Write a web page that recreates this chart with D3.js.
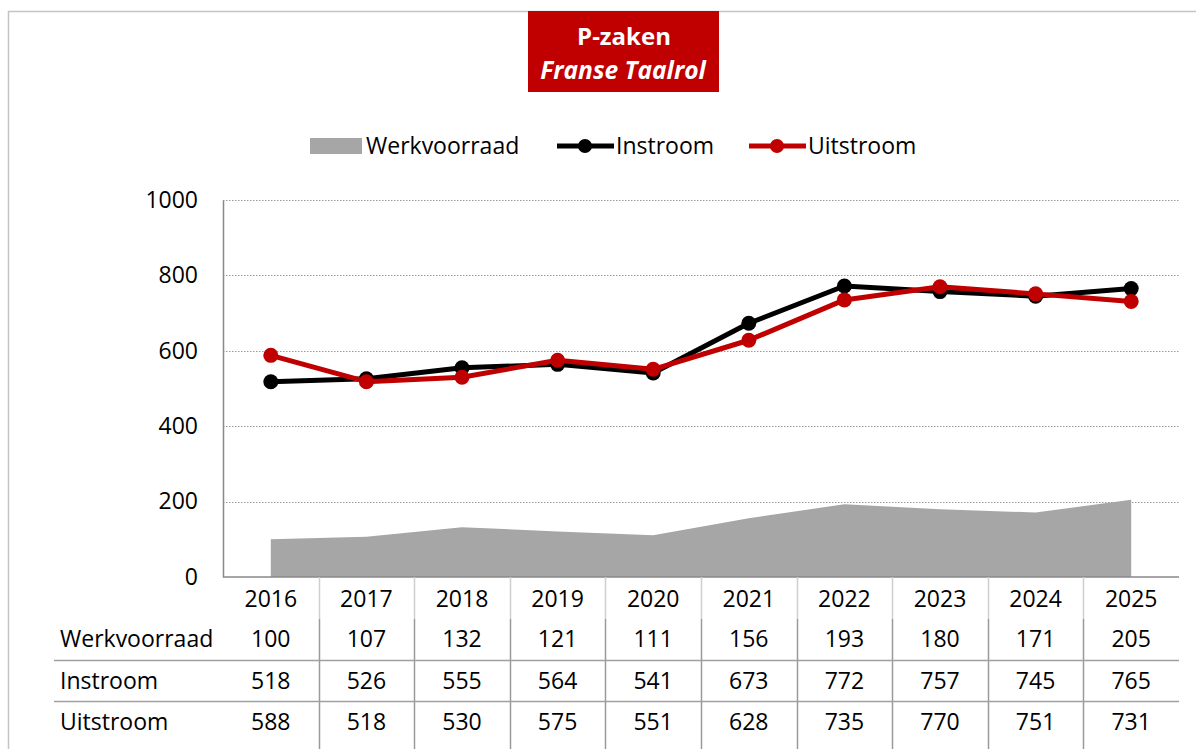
<!DOCTYPE html>
<html>
<head>
<meta charset="utf-8">
<script src="https://cdn.jsdelivr.net/npm/d3@7"></script>
<style>
  body { margin: 0; background: #fff; }
  svg { display: block; font-family: "Open Sans", Lato, sans-serif; }
</style>
</head>
<body>
<svg id="chart" width="1196" height="749"></svg>
<script>
// data
var years = ["2016","2017","2018","2019","2020","2021","2022","2023","2024","2025"];
var werkvoorraad = [100, 107, 132, 121, 111, 156, 193, 180, 171, 205];
var instroom = [518, 526, 555, 564, 541, 673, 772, 757, 745, 765];
var uitstroom = [588, 518, 530, 575, 551, 628, 735, 770, 751, 731];
var yTicks = [0, 200, 400, 600, 800, 1000];

var svg = d3.select("#chart");
var fs = "23px";

// scales
var x = d3.scaleBand().domain(years).range([223, 1179]);
var y = d3.scaleLinear().domain([0, 1000]).range([577, 200]);
var cx = function(d, i) { return x(years[i]) + x.bandwidth() / 2; };

// outer frame (left + top)
svg.append("path")
    .attr("d", "M8.5,749 V11.5 H1196")
    .attr("fill", "none")
    .attr("stroke", "#c4c4c4")
    .attr("stroke-width", 1.5);

// title box
svg.append("rect")
    .attr("x", 528).attr("y", 11)
    .attr("width", 191).attr("height", 81)
    .attr("fill", "#c00000");
svg.append("text")
    .attr("x", 624).attr("y", 45)
    .attr("text-anchor", "middle")
    .attr("fill", "#fff")
    .style("font-size", "24px").style("font-weight", "bold")
    .text("P-zaken");
svg.append("text")
    .attr("x", 623).attr("y", 79)
    .attr("text-anchor", "middle")
    .attr("fill", "#fff")
    .style("font-size", "24.5px").style("font-weight", "bold").style("font-style", "italic")
    .text("Franse Taalrol");

// legend
var lg = svg.append("g").style("font-size", fs);
lg.append("rect").attr("x", 310).attr("y", 138).attr("width", 52).attr("height", 16).attr("fill", "#a6a6a6");
lg.append("text").attr("x", 366).attr("y", 154).text("Werkvoorraad");
[["Instroom", "#000", 557], ["Uitstroom", "#c00000", 749]].forEach(function(s) {
    lg.append("line").attr("x1", s[2]).attr("x2", s[2] + 57).attr("y1", 146).attr("y2", 146)
        .attr("stroke", s[1]).attr("stroke-width", 5);
    lg.append("circle").attr("cx", s[2] + 28).attr("cy", 146).attr("r", 7).attr("fill", s[1]);
    lg.append("text").attr("x", s[2] + 59).attr("y", 154).text(s[0]);
});

// gridlines
svg.append("g")
    .selectAll("line")
    .data(yTicks.filter(function(d) { return d > 0; }))
    .enter().append("line")
    .attr("x1", 223).attr("x2", 1179)
    .attr("y1", function(d) { return Math.round(y(d)) + 0.5; })
    .attr("y2", function(d) { return Math.round(y(d)) + 0.5; })
    .attr("stroke", "#9a9a9a")
    .attr("stroke-dasharray", "1.5,1.5");

// area
var area = d3.area()
    .x(cx)
    .y0(y(0))
    .y1(function(d) { return y(d); });
svg.append("path")
    .datum(werkvoorraad)
    .attr("d", area)
    .attr("fill", "#a6a6a6");

// y axis
var yAxis = svg.append("g")
    .attr("transform", "translate(223,0)")
    .call(d3.axisLeft(y).tickValues(yTicks).tickFormat(d3.format("d")).tickSize(0).tickPadding(25));
yAxis.select(".domain").attr("stroke", "#898989").attr("stroke-width", 1.5);
yAxis.selectAll("text").style("font-size", fs).style("font-family", "'Open Sans', sans-serif").attr("fill", "#000");

// x axis line
svg.append("line")
    .attr("x1", 223).attr("x2", 1179)
    .attr("y1", y(0)).attr("y2", y(0))
    .attr("stroke", "#898989").attr("stroke-width", 1.5);

// lines
var line = d3.line().x(cx).y(function(d) { return y(d); });
[[instroom, "#000"], [uitstroom, "#c00000"]].forEach(function(s) {
    var g = svg.append("g");
    g.append("path").datum(s[0])
        .attr("d", line)
        .attr("fill", "none")
        .attr("stroke", s[1])
        .attr("stroke-width", 5)
        .attr("stroke-linejoin", "round");
    g.selectAll("circle").data(s[0]).enter().append("circle")
        .attr("cx", cx)
        .attr("cy", function(d) { return y(d); })
        .attr("r", 7.5)
        .attr("fill", s[1]);
});

// data table
var tbl = svg.append("g").style("font-size", fs);
years.slice(1).forEach(function(yr) {
    var xx = Math.round(x(yr)) + 0.5;
    tbl.append("line").attr("x1", xx).attr("x2", xx).attr("y1", 577).attr("y2", 619)
        .attr("stroke", "#cfcfcf").attr("stroke-width", 1.5);
    tbl.append("line").attr("x1", xx).attr("x2", xx).attr("y1", 619).attr("y2", 749)
        .attr("stroke", "#9a9a9a").attr("stroke-width", 1.5);
});
[660, 701].forEach(function(yy) {
    tbl.append("line").attr("x1", 54).attr("x2", 1179).attr("y1", yy + 0.5).attr("y2", yy + 0.5)
        .attr("stroke", "#a0a0a0").attr("stroke-width", 1.5);
});
tbl.selectAll("text.year").data(years).enter().append("text")
    .attr("class", "year")
    .attr("x", function(d) { return x(d) + x.bandwidth() / 2; })
    .attr("y", 607)
    .attr("text-anchor", "middle")
    .text(function(d) { return d; });
var rows = [["Werkvoorraad", werkvoorraad, 647], ["Instroom", instroom, 689], ["Uitstroom", uitstroom, 730]];
rows.forEach(function(r) {
    tbl.append("text").attr("x", 60).attr("y", r[2]).text(r[0]);
    tbl.selectAll(null).data(r[1]).enter().append("text")
        .attr("x", cx)
        .attr("y", r[2])
        .attr("text-anchor", "middle")
        .text(function(d) { return d; });
});
</script>
</body>
</html>
